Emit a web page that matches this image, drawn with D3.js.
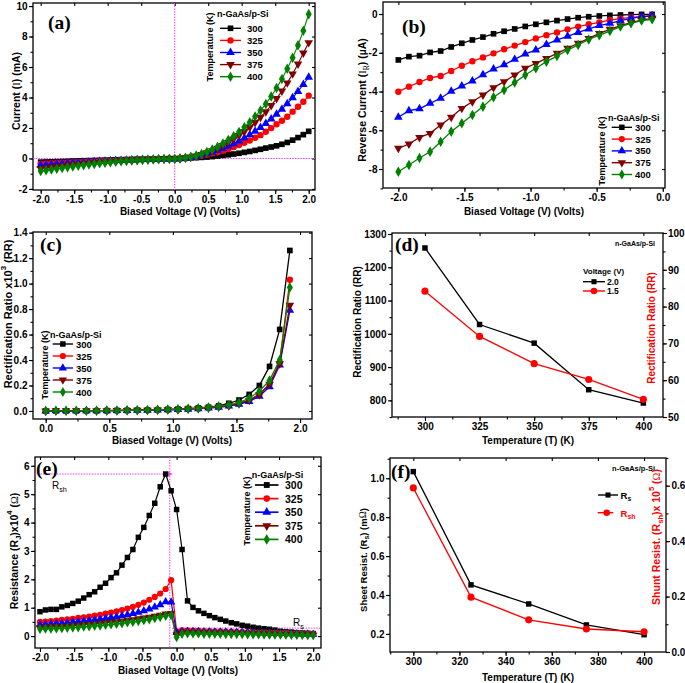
<!DOCTYPE html>
<html><head><meta charset="utf-8">
<script src="https://cdn.jsdelivr.net/npm/d3@7"></script>
<style>
body{margin:0;background:#fff;}
svg{display:block;}
</style></head><body>
<svg id="fig" width="685" height="683"></svg>
<script>
// ---------------- DATA ----------------
const temps = ['300','325','350','375','400'];
const volts51 = [-2.00,-1.92,-1.84,-1.76,-1.68,-1.60,-1.52,-1.44,-1.36,-1.28,-1.20,-1.12,-1.04,-0.96,-0.88,-0.80,-0.72,-0.64,-0.56,-0.48,-0.40,-0.32,-0.24,-0.16,-0.08,0.00,0.08,0.16,0.24,0.32,0.40,0.48,0.56,0.64,0.72,0.80,0.88,0.96,1.04,1.12,1.20,1.28,1.36,1.44,1.52,1.60,1.68,1.76,1.84,1.92,2.00];
const voltsRev = [-2.00,-1.92,-1.84,-1.76,-1.68,-1.60,-1.52,-1.44,-1.36,-1.28,-1.20,-1.12,-1.04,-0.96,-0.88,-0.80,-0.72,-0.64,-0.56,-0.48,-0.40,-0.32,-0.24,-0.16,-0.08];
const voltsFwd = [0.00,0.08,0.16,0.24,0.32,0.40,0.48,0.56,0.64,0.72,0.80,0.88,0.96,1.04,1.12,1.20,1.28,1.36,1.44,1.52,1.60,1.68,1.76,1.84,1.92];

// (a) current (mA)
const a300 = [-0.24,-0.23,-0.22,-0.21,-0.20,-0.19,-0.17,-0.16,-0.15,-0.14,-0.13,-0.12,-0.11,-0.10,-0.09,-0.08,-0.07,-0.06,-0.05,-0.05,-0.04,-0.03,-0.03,-0.02,-0.01,-0.01,0.00,0.01,0.03,0.05,0.07,0.09,0.12,0.16,0.20,0.24,0.29,0.34,0.40,0.46,0.53,0.60,0.68,0.75,0.83,0.93,1.05,1.20,1.37,1.56,1.78];
const a325 = [-0.35,-0.33,-0.31,-0.29,-0.28,-0.26,-0.24,-0.23,-0.21,-0.20,-0.18,-0.17,-0.15,-0.14,-0.13,-0.11,-0.10,-0.09,-0.08,-0.07,-0.06,-0.05,-0.04,-0.03,-0.02,-0.03,-0.01,0.02,0.07,0.11,0.17,0.24,0.33,0.41,0.50,0.61,0.74,0.88,1.03,1.18,1.36,1.53,1.75,1.99,2.24,2.47,2.74,3.07,3.39,3.72,4.12];
const a350 = [-0.45,-0.42,-0.40,-0.37,-0.35,-0.32,-0.30,-0.28,-0.26,-0.24,-0.22,-0.20,-0.18,-0.16,-0.14,-0.13,-0.11,-0.10,-0.08,-0.07,-0.06,-0.05,-0.04,-0.03,-0.02,-0.03,0.00,0.03,0.08,0.14,0.21,0.30,0.40,0.52,0.65,0.80,0.96,1.14,1.34,1.55,1.78,2.03,2.30,2.59,2.90,3.23,3.59,3.98,4.40,4.85,5.33];
const a375 = [-0.66,-0.62,-0.58,-0.54,-0.50,-0.46,-0.42,-0.39,-0.36,-0.33,-0.30,-0.27,-0.24,-0.21,-0.19,-0.16,-0.14,-0.12,-0.10,-0.09,-0.07,-0.06,-0.05,-0.04,-0.03,-0.03,0.00,0.04,0.10,0.17,0.26,0.37,0.51,0.67,0.85,1.05,1.27,1.51,1.77,2.05,2.36,2.70,3.07,3.48,3.93,4.42,4.96,5.55,6.20,6.92,7.60];
const a400 = [-0.83,-0.78,-0.73,-0.68,-0.63,-0.58,-0.53,-0.48,-0.44,-0.40,-0.36,-0.32,-0.28,-0.25,-0.22,-0.19,-0.16,-0.14,-0.12,-0.10,-0.08,-0.07,-0.05,-0.04,-0.03,-0.03,0.00,0.05,0.11,0.19,0.29,0.42,0.58,0.77,0.98,1.21,1.46,1.74,2.05,2.38,2.75,3.14,3.58,4.07,4.62,5.22,5.88,6.60,7.42,8.38,9.47];

// (b) reverse current (uA)
const b300 = [-2.37,-2.20,-2.15,-1.98,-1.91,-1.70,-1.51,-1.34,-1.19,-1.02,-0.89,-0.77,-0.64,-0.53,-0.43,-0.34,-0.26,-0.19,-0.14,-0.10,-0.07,-0.05,-0.03,-0.02,-0.02];
const b325 = [-4.01,-3.75,-3.51,-3.30,-3.20,-2.94,-2.67,-2.44,-2.24,-2.03,-1.82,-1.63,-1.45,-1.26,-1.09,-0.95,-0.79,-0.65,-0.53,-0.43,-0.31,-0.24,-0.17,-0.14,-0.10];
const b350 = [-5.33,-4.99,-4.89,-4.61,-4.35,-3.99,-3.72,-3.46,-3.13,-2.84,-2.62,-2.34,-2.06,-1.86,-1.57,-1.34,-1.15,-0.95,-0.77,-0.60,-0.48,-0.34,-0.22,-0.14,-0.09];
const b375 = [-6.93,-6.71,-6.37,-6.16,-5.73,-5.33,-4.87,-4.53,-4.18,-3.80,-3.49,-3.15,-2.80,-2.55,-2.29,-2.03,-1.77,-1.51,-1.26,-1.00,-0.79,-0.60,-0.45,-0.31,-0.22];
const b400 = [-8.14,-7.79,-7.43,-7.11,-6.59,-6.07,-5.64,-5.21,-4.78,-4.30,-3.92,-3.54,-3.15,-2.80,-2.46,-2.17,-1.86,-1.60,-1.31,-1.09,-0.88,-0.65,-0.48,-0.34,-0.27];

// (c) rectification ratio x10^3
const c300 = [0.000,0.001,0.001,0.001,0.002,0.002,0.003,0.004,0.005,0.006,0.008,0.010,0.012,0.015,0.019,0.024,0.030,0.040,0.060,0.086,0.130,0.200,0.350,0.640,1.260];
const c325 = [0.000,0.001,0.001,0.001,0.001,0.002,0.002,0.003,0.004,0.005,0.006,0.008,0.010,0.012,0.015,0.019,0.025,0.032,0.042,0.058,0.085,0.130,0.210,0.380,1.030];
const c350 = [0.000,0.001,0.001,0.001,0.001,0.002,0.002,0.003,0.004,0.005,0.006,0.007,0.009,0.011,0.014,0.018,0.023,0.030,0.039,0.052,0.075,0.115,0.190,0.360,0.790];
const c375 = [0.000,0.001,0.001,0.001,0.001,0.002,0.002,0.003,0.004,0.005,0.006,0.008,0.010,0.012,0.015,0.019,0.024,0.031,0.041,0.057,0.083,0.130,0.210,0.370,0.830];
const c400 = [0.000,0.001,0.001,0.001,0.002,0.002,0.003,0.004,0.005,0.006,0.007,0.009,0.011,0.014,0.018,0.022,0.028,0.036,0.047,0.065,0.100,0.155,0.240,0.400,0.970];

// (d) rectification ratio vs temperature
const dTemps = [300,325,350,375,400];
const dLabels = ['2.0','1.5'];
const dRR20 = [1258,1028,972,832,792];
const dRR15 = [84.2,71.9,64.5,60.2,54.8];

// (e) junction resistance x10^4
const e300 = [0.86,0.92,0.94,0.94,1.03,1.08,1.15,1.23,1.34,1.46,1.56,1.72,1.86,2.06,2.23,2.50,2.77,3.05,3.48,3.83,4.25,4.68,5.26,5.71,5.12,4.46,3.05,1.24,1.01,0.89,0.80,0.72,0.65,0.59,0.53,0.47,0.43,0.38,0.35,0.31,0.28,0.26,0.24,0.21,0.17,0.15,0.14,0.12,0.11,0.10,0.09];
const e325 = [0.50,0.51,0.53,0.55,0.57,0.59,0.61,0.64,0.66,0.69,0.72,0.75,0.79,0.83,0.87,0.92,0.97,1.03,1.10,1.18,1.28,1.38,1.50,1.66,1.97,0.17,0.20,0.20,0.19,0.19,0.18,0.18,0.17,0.17,0.16,0.16,0.15,0.15,0.14,0.14,0.13,0.13,0.12,0.12,0.11,0.11,0.10,0.10,0.09,0.09,0.08];
const e350 = [0.40,0.41,0.42,0.44,0.45,0.47,0.49,0.51,0.53,0.55,0.57,0.60,0.62,0.65,0.68,0.71,0.75,0.79,0.84,0.89,0.95,1.02,1.10,1.21,1.20,0.12,0.16,0.16,0.16,0.15,0.15,0.15,0.14,0.14,0.14,0.13,0.13,0.13,0.12,0.12,0.11,0.11,0.10,0.10,0.09,0.09,0.08,0.08,0.07,0.07,0.06];
const e375 = [0.30,0.31,0.32,0.33,0.34,0.35,0.37,0.38,0.40,0.41,0.43,0.45,0.47,0.49,0.51,0.53,0.56,0.58,0.61,0.64,0.67,0.70,0.74,0.78,0.80,0.05,0.12,0.12,0.12,0.11,0.11,0.11,0.10,0.10,0.10,0.09,0.09,0.09,0.08,0.08,0.08,0.07,0.07,0.07,0.06,0.06,0.06,0.05,0.05,0.05,0.04];
const e400 = [0.25,0.26,0.26,0.27,0.28,0.29,0.30,0.31,0.33,0.34,0.36,0.37,0.39,0.41,0.43,0.45,0.48,0.50,0.53,0.56,0.59,0.63,0.67,0.71,0.74,-0.04,0.08,0.09,0.09,0.09,0.08,0.08,0.08,0.08,0.07,0.07,0.07,0.07,0.06,0.06,0.06,0.06,0.05,0.05,0.05,0.05,0.04,0.04,0.04,0.03,0.03];
const eRsh = 5.71, eRs = 0.28, eMarkV = -0.10;

// (f) sheet / shunt resistance
const fTemps = [300,325,350,375,400];
const fRs = [1.034,0.452,0.354,0.246,0.196];
const fRsh = [0.592,0.198,0.116,0.083,0.073];

// ticks
const ticksV4 = [-2.0,-1.5,-1.0,-0.5,0.0,0.5,1.0,1.5,2.0];
const ticksVrev = [-2.0,-1.5,-1.0,-0.5,0.0];
const ticksVfwd = [0.0,0.5,1.0,1.5,2.0];
const ticksAy = [-2,0,2,4,6,8,10];
const ticksBy = [-8,-6,-4,-2,0];
const ticksCy = [0.0,0.2,0.4,0.6,0.8,1.0,1.2,1.4];
const ticksDx = [300,325,350,375,400];
const ticksDyL = [800,900,1000,1100,1200,1300];
const ticksDyR = [50,60,70,80,90,100];
const ticksEy = [0,1,2,3,4,5,6];
const ticksFx = [300,320,340,360,380,400];
const ticksFyL = [0.2,0.4,0.6,0.8,1.0];
const ticksFyR = [0.0,0.2,0.4,0.6];

// ---------------- DRAWING ----------------
const svg = d3.select('#fig');
svg.append('rect').attr('width',685).attr('height',683).attr('fill','#fff');
const FONT = '"Liberation Sans", Arial, sans-serif';
const SERIF = '"Liberation Serif", "Times New Roman", serif';
const COLORS = ['#000000','#ff0000','#0000ff','#800000','#008000'];
const SYMS = ['sq','ci','tu','td','di'];
const SYMTYPE = {sq:d3.symbolSquare, ci:d3.symbolCircle, tu:d3.symbolTriangle, td:d3.symbolTriangle, di:d3.symbolDiamond};
const TFS = 10;
const f1 = d => d.toFixed(1);
const f0 = d => String(d);
const range = (a,b,s) => { const out=[]; for(let v=a; v<=b+1e-9; v+=s) out.push(+v.toFixed(4)); return out; };

function styleAx(sel, fs){
  sel.select('.domain').remove();
  sel.selectAll('line').attr('stroke','#000').attr('stroke-width',1.1);
  sel.selectAll('text').attr('font-size',fs).attr('font-weight','bold').attr('font-family',FONT).attr('fill','#000');
}

function makePanel(o){
  const g = svg.append('g');
  const x = d3.scaleLinear().domain(o.xd).range([o.l,o.r]);
  const y = d3.scaleLinear().domain(o.yd).range([o.b,o.t]);
  const fs = o.tfs || TFS;
  g.append('g').attr('transform',`translate(0,${o.b})`).call(d3.axisBottom(x).tickValues(o.xt).tickSize(4).tickPadding(2).tickFormat(o.xf)).call(s=>styleAx(s,fs));
  g.append('g').attr('transform',`translate(0,${o.b})`).call(d3.axisBottom(x).tickValues(o.xm).tickSize(2.5).tickFormat('')).call(s=>styleAx(s,fs));
  g.append('g').attr('transform',`translate(${o.l},0)`).call(d3.axisLeft(y).tickValues(o.yt).tickSize(4).tickPadding(1.5).tickFormat(o.yf)).call(s=>styleAx(s,fs));
  g.append('g').attr('transform',`translate(${o.l},0)`).call(d3.axisLeft(y).tickValues(o.ym).tickSize(2.5).tickFormat('')).call(s=>styleAx(s,fs));
  g.append('g').attr('transform',`translate(0,${o.t})`).call(d3.axisTop(x).tickValues(o.xt).tickSize(-3).tickFormat('')).call(s=>styleAx(s,fs));
  if(!o.noRight) g.append('g').attr('transform',`translate(${o.r},0)`).call(d3.axisRight(y).tickValues(o.yt).tickSize(-3).tickFormat('')).call(s=>styleAx(s,fs));
  g.append('rect').attr('x',o.l).attr('y',o.t).attr('width',o.r-o.l).attr('height',o.b-o.t)
    .attr('fill','none').attr('stroke','#000').attr('stroke-width',1.3);
  return {g,x,y};
}

function marker(g, cx, cy, color, sym, size){
  g.append('path').attr('d', d3.symbol().type(SYMTYPE[sym]).size(size)())
    .attr('transform',`translate(${cx},${cy})` + (sym==='td' ? ' rotate(180)' : ''))
    .attr('fill',color);
}

function series(g, x, y, xs, ys, color, sym, size, lw){
  const n = Math.min(xs.length, ys.length);
  const pts = [];
  for(let i=0;i<n;i++) pts.push([xs[i], ys[i]]);
  g.append('path').datum(pts).attr('fill','none').attr('stroke',color).attr('stroke-width',lw)
    .attr('d', d3.line().x(d=>x(d[0])).y(d=>y(d[1])));
  pts.forEach(d => marker(g, x(d[0]), y(d[1]), color, sym, size));
}

function txt(g, x, y, s, o={}){
  const t = g.append('text').attr('x',x).attr('y',y)
    .attr('font-family',o.ff||FONT).attr('font-size',o.fs||10).attr('font-weight',o.fw||'bold')
    .attr('fill',o.fill||'#000').attr('text-anchor',o.anchor||'start').attr('dominant-baseline','central');
  if(o.rot) t.attr('transform',`rotate(-90,${x},${y})`);
  if(typeof s === 'string') t.text(s);
  else s.forEach(p => {
    const ts = t.append('tspan').text(p.t);
    if(p.sub) ts.attr('baseline-shift','sub').attr('font-size',(o.fs||10)*0.72);
    if(p.sup) ts.attr('baseline-shift','super').attr('font-size',(o.fs||10)*0.72);
    if(p.ff) ts.attr('font-family',p.ff);
    if(p.fw) ts.attr('font-weight',p.fw);
  });
  return t;
}

function legendTemp(g, o){
  txt(g, o.hx, o.hy, 'n-GaAs/p-Si', {fs:o.fs});
  txt(g, o.rx, o.ry, 'Temperature (K)', {fs:o.fs, rot:true, anchor:'middle'});
  temps.forEach((lab,i) => {
    const yy = o.y0 + i*o.dy;
    g.append('line').attr('x1',o.x1).attr('x2',o.x2).attr('y1',yy).attr('y2',yy).attr('stroke',COLORS[i]).attr('stroke-width',o.lw||1.4);
    marker(g, (o.x1+o.x2)/2, yy, COLORS[i], SYMS[i], o.ms||30);
    txt(g, o.lx, yy, lab, {fs:o.lfs||o.fs});
  });
}

function magLine(g, x1, y1, x2, y2){
  g.append('line').attr('x1',x1).attr('y1',y1).attr('x2',x2).attr('y2',y2)
    .attr('stroke','#ff33ff').attr('stroke-width',1).attr('stroke-dasharray','1.5,1.2');
}

// ===== (a) =====
{
  const P = makePanel({l:33,r:315,t:3,b:190, xd:[-2.115,2.094], yd:[-2.07,10.2],
    xt:ticksV4, xm:range(-2,2,0.25), xf:f1, yt:ticksAy, ym:range(-2,10,1), yf:f0});
  const {g,x,y} = P;
  magLine(g, x(0), 3, x(0), 190);
  magLine(g, 33, y(0), 315, y(0));
  const A = [a300,a325,a350,a375,a400];
  A.forEach((arr,i) => series(g, x, y, volts51, arr, COLORS[i], SYMS[i], 32, 1.1));
  legendTemp(g, {hx:217, hy:14, rx:210, ry:47, x1:220, x2:241, y0:28.3, dy:12.1, lx:247, fs:9, lfs:9.5, ms:32});
  txt(g, 48, 22, '(a)', {ff:SERIF, fs:19.5});
  txt(g, 180, 211, 'Biased Voltage (V) (Volts)', {fs:10, anchor:'middle'});
  txt(g, 16, 91, [{t:'Current  ('},{t:'I',ff:SERIF,fw:'normal'},{t:')  (mA)'}], {fs:10.5, rot:true, anchor:'middle'});
}

// ===== (b) =====
{
  const P = makePanel({l:383,r:665,t:2,b:188, xd:[-2.116,0.017], yd:[-8.98,0.62],
    xt:ticksVrev, xm:range(-2,0,0.25), xf:f1, yt:ticksBy, ym:range(-9,0,1), yf:f0});
  const {g,x,y} = P;
  const B = [b300,b325,b350,b375,b400];
  B.forEach((arr,i) => series(g, x, y, voltsRev, arr, COLORS[i], SYMS[i], 32, 1.3));
  legendTemp(g, {hx:608, hy:118, rx:602, ry:151, x1:611.7, x2:632, y0:127.3, dy:11.8, lx:635, fs:9, lfs:9.5, ms:30});
  txt(g, 402, 26, '(b)', {ff:SERIF, fs:19.5});
  txt(g, 524, 211.5, 'Biased Voltage (V) (Volts)', {fs:10, anchor:'middle'});
  txt(g, 361.7, 100, [{t:'Reverse Current  ('},{t:'I',ff:SERIF,fw:'normal'},{t:'R',sub:true,ff:SERIF,fw:'normal'},{t:')  (\u00b5A)'}], {fs:10.5, rot:true, anchor:'middle'});
}

// ===== (c) =====
{
  const P = makePanel({l:33,r:312,t:232,b:419, xd:[-0.1,2.094], yd:[-0.063,1.405],
    xt:ticksVfwd, xm:range(0,2,0.25), xf:f1, yt:ticksCy, ym:range(0,1.4,0.1), yf:f1});
  const {g,x,y} = P;
  const C = [c300,c325,c350,c375,c400];
  C.forEach((arr,i) => series(g, x, y, voltsFwd, arr, COLORS[i], SYMS[i], 32, 1.3));
  legendTemp(g, {hx:50, hy:335, rx:45, ry:365, x1:52.7, x2:73, y0:344, dy:12, lx:76, fs:9, lfs:9.5, ms:30});
  txt(g, 40, 244.5, '(c)', {ff:SERIF, fs:19.5});
  txt(g, 172, 440, 'Biased Voltage (V) (Volts)', {fs:10, anchor:'middle'});
  txt(g, 7.5, 314, [{t:'Rectification Ratio x10'},{t:'3',sup:true},{t:' (RR)'}], {fs:11, rot:true, anchor:'middle'});
}

// ===== (d) =====
{
  const P = makePanel({l:392,r:663,t:233,b:417, xd:[284.9,409.0], yd:[750,1303],
    xt:ticksDx, xm:range(287.5,400,12.5), xf:f0, yt:ticksDyL, ym:range(750,1300,50), yf:f0, noRight:true});
  const {g,x,y} = P;
  const yR = d3.scaleLinear().domain([50,100]).range([417,233]);
  g.append('g').attr('transform','translate(663,0)').call(d3.axisRight(yR).tickValues(ticksDyR).tickSize(4).tickPadding(1).tickFormat(f0)).call(s=>styleAx(s,TFS));
  g.append('g').attr('transform','translate(663,0)').call(d3.axisRight(yR).tickValues(range(50,100,5)).tickSize(2.5).tickFormat('')).call(s=>styleAx(s,TFS));
  series(g, x, y, dTemps, dRR20, '#000', 'sq', 30, 1.3);
  series(g, x, yR, dTemps, dRR15, '#ff0000', 'ci', 40, 1.3);
  txt(g, 655, 243, 'n-GaAs/p-Si', {fs:7, anchor:'end'});
  txt(g, 583, 271.5, 'Voltage (V)', {fs:8});
  [['#000','sq',281.7],['#ff0000','ci',291]].forEach((e,i) => {
    g.append('line').attr('x1',583).attr('x2',605).attr('y1',e[2]).attr('y2',e[2]).attr('stroke',e[0]).attr('stroke-width',1.4);
    marker(g, 594, e[2], e[0], e[1], i===0?26:34);
    txt(g, 607, e[2], dLabels[i], {fs:8.5});
  });
  txt(g, 395, 244.5, '(d)', {ff:SERIF, fs:19.5});
  txt(g, 528, 440, 'Temperature (T) (K)', {fs:10, anchor:'middle'});
  txt(g, 357.5, 322, 'Rectification Ratio (RR)', {fs:10, rot:true, anchor:'middle'});
  txt(g, 651.5, 328, 'Rectification Ratio (RR)', {fs:10, rot:true, anchor:'middle', fill:'#ff0000'});
}

// ===== (e) =====
{
  const P = makePanel({l:35,r:321,t:457,b:648, xd:[-2.073,2.114], yd:[-0.42,6.31],
    xt:ticksV4, xm:range(-2,2,0.25), xf:f1, yt:ticksEy, ym:range(0,6,0.5), yf:f0});
  const {g,x,y} = P;
  magLine(g, x(eMarkV), 457, x(eMarkV), 648);
  magLine(g, 35, y(eRsh), x(-0.2), y(eRsh));
  g.append('path').attr('d',`M${x(-0.06)},${y(eRsh)} l-4,-2.2 l0,4.4 z`).attr('fill','#ff33ff');
  magLine(g, x(-0.05), y(eRs), 321, y(eRs));
  g.append('path').attr('d',`M${x(-0.07)},${y(eRs)} l4,-2.2 l0,4.4 z`).attr('fill','#ff33ff');
  const E = [e300,e325,e350,e375,e400];
  E.forEach((arr,i) => series(g, x, y, volts51, arr, COLORS[i], SYMS[i], 30, 1.2));
  legendTemp(g, {hx:251.7, hy:475, rx:246.7, ry:511, x1:255, x2:278.5, y0:485, dy:13.6, lx:285, fs:9, lfs:10.5, ms:34, lw:1.7});
  txt(g, 52, 485, [{t:'R'},{t:'sh',sub:true}], {fs:10, fw:'normal'});
  txt(g, 293, 621.5, [{t:'R'},{t:'s',sub:true}], {fs:10, fw:'normal'});
  txt(g, 36, 468, '(e)', {ff:SERIF, fs:19.5});
  txt(g, 178, 670.5, 'Biased Voltage (V) (Volts)', {fs:10, anchor:'middle'});
  txt(g, 14, 551, [{t:'Resistance (R'},{t:'J',sub:true},{t:')x10'},{t:'4',sup:true},{t:' ('},{t:'\u03a9',ff:SERIF,fw:'normal'},{t:')'}], {fs:10.5, rot:true, anchor:'middle'});
}

// ===== (f) =====
{
  const P = makePanel({l:390,r:666,t:458,b:652, xd:[289.9,409.5], yd:[0.107,1.104],
    xt:ticksFx, xm:range(290,400,10), xf:f0, yt:ticksFyL, ym:range(0.2,1.1,0.1), yf:f1, noRight:true});
  const {g,x,y} = P;
  const yR = d3.scaleLinear().domain([0,0.70]).range([652,458]);
  g.append('g').attr('transform','translate(666,0)').call(d3.axisRight(yR).tickValues(ticksFyR).tickSize(4).tickPadding(1.5).tickFormat(f1)).call(s=>styleAx(s,TFS));
  g.append('g').attr('transform','translate(666,0)').call(d3.axisRight(yR).tickValues(range(0,0.7,0.1)).tickSize(2.5).tickFormat('')).call(s=>styleAx(s,TFS));
  series(g, x, y, fTemps, fRs, '#000', 'sq', 30, 1.3);
  series(g, x, yR, fTemps, fRsh, '#ff0000', 'ci', 40, 1.3);
  txt(g, 655, 468.3, 'n-GaAs/p-Si', {fs:7.5, anchor:'end'});
  g.append('line').attr('x1',598).attr('x2',618).attr('y1',495).attr('y2',495).attr('stroke','#000').attr('stroke-width',1.4);
  marker(g, 608, 495, '#000', 'sq', 26);
  txt(g, 620.5, 495, [{t:'R'},{t:'s',sub:true}], {fs:9.5});
  g.append('line').attr('x1',597.7).attr('x2',613.3).attr('y1',512.7).attr('y2',512.7).attr('stroke','#ff0000').attr('stroke-width',1.4);
  marker(g, 606.7, 512.7, '#ff0000', 'ci', 34);
  txt(g, 620.5, 512.7, [{t:'R'},{t:'sh',sub:true}], {fs:9.5, fill:'#ff0000'});
  txt(g, 391, 471, '(f)', {ff:SERIF, fs:19.5});
  txt(g, 528, 677.5, 'Temperature (T) (K)', {fs:10, anchor:'middle'});
  txt(g, 363, 560, [{t:'Sheet Resist. (R'},{t:'s',sub:true},{t:') (m'},{t:'\u03a9',ff:SERIF,fw:'normal'},{t:')'}], {fs:9.5, rot:true, anchor:'middle'});
  txt(g, 656, 537, [{t:'Shunt Resist. (R'},{t:'sh',sub:true},{t:')x 10'},{t:'5',sup:true},{t:' ('},{t:'\u03a9',ff:SERIF,fw:'normal'},{t:')'}], {fs:10.5, rot:true, anchor:'middle', fill:'#ff0000'});
}
</script>
</body></html>
